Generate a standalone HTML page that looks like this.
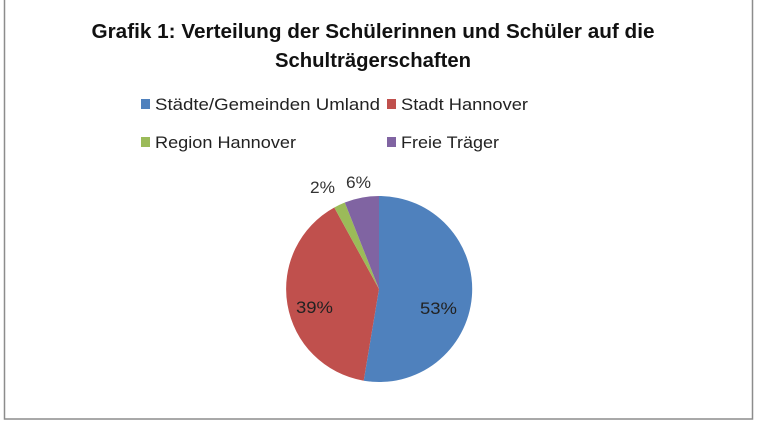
<!DOCTYPE html>
<html><head><meta charset="utf-8"><style>
html,body{margin:0;padding:0;background:#fff;}
svg{display:block;}
text{font-family:"Liberation Sans",sans-serif;}
</style></head><body>
<svg width="757" height="426" viewBox="0 0 757 426" xmlns="http://www.w3.org/2000/svg">
<rect x="0" y="0" width="757" height="426" fill="#fff"/>
<rect x="4.5" y="-2" width="748" height="421" fill="none" stroke="#8c8c8c" stroke-width="1.5"/>
<text x="373" y="38" text-anchor="middle" font-size="20" font-weight="bold" fill="#111" textLength="563" lengthAdjust="spacingAndGlyphs">Grafik 1: Verteilung der Schülerinnen und Schüler auf die</text>
<text x="373" y="67" text-anchor="middle" font-size="20" font-weight="bold" fill="#111" textLength="196" lengthAdjust="spacingAndGlyphs">Schulträgerschaften</text>
<rect x="141" y="99" width="9" height="10" fill="#4f81bd"/>
<text x="155" y="110" font-size="17" fill="#222" textLength="225" lengthAdjust="spacingAndGlyphs">Städte/Gemeinden Umland</text>
<rect x="387" y="99" width="9" height="10" fill="#c0504d"/>
<text x="401" y="110" font-size="17" fill="#222" textLength="127" lengthAdjust="spacingAndGlyphs">Stadt Hannover</text>
<rect x="141" y="137" width="9" height="10" fill="#9bbb59"/>
<text x="155" y="148" font-size="17" fill="#222" textLength="141" lengthAdjust="spacingAndGlyphs">Region Hannover</text>
<rect x="387" y="137" width="9" height="10" fill="#8064a2"/>
<text x="401" y="148" font-size="17" fill="#222" textLength="98" lengthAdjust="spacingAndGlyphs">Freie Träger</text>
<path d="M379,289 L379,196 A93,93 0 1,1 363.7,380.7 Z" fill="#4f81bd"/>
<path d="M379,289 L363.7,380.7 A93,93 0 0,1 334.3,207.5 Z" fill="#c0504d"/>
<path d="M379,289 L334.3,207.5 A93,93 0 0,1 344.8,202.5 Z" fill="#9bbb59"/>
<path d="M379,289 L344.8,202.5 A93,93 0 0,1 379,196 Z" fill="#8064a2"/>
<text x="310" y="193" font-size="17" fill="#333" textLength="25" lengthAdjust="spacingAndGlyphs">2%</text>
<text x="346" y="188" font-size="17" fill="#333" textLength="25" lengthAdjust="spacingAndGlyphs">6%</text>
<text x="296" y="313" font-size="17" fill="#222" textLength="37" lengthAdjust="spacingAndGlyphs">39%</text>
<text x="420" y="314" font-size="17" fill="#222" textLength="37" lengthAdjust="spacingAndGlyphs">53%</text>
</svg>
</body></html>
